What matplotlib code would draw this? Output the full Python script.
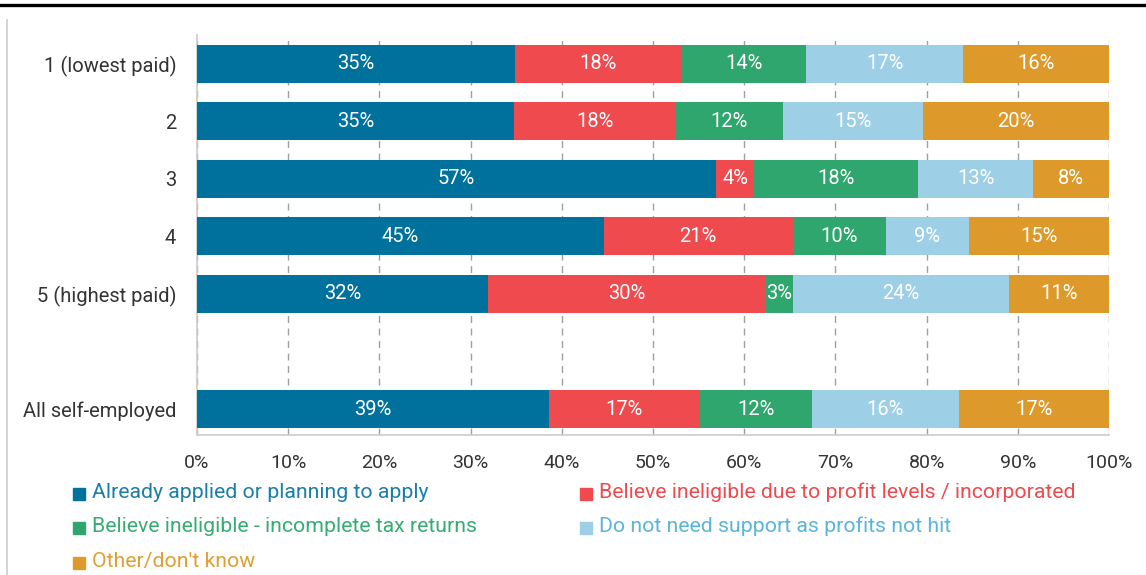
import matplotlib
matplotlib.use('Agg')
import matplotlib.pyplot as plt
from matplotlib.lines import Line2D
import numpy as np

plt.rcParams['font.family'] = ['Roboto', 'DejaVu Sans']

groups = ['1 (lowest paid)', '2', '3', '4', '5 (highest paid)', 'All self-employed']
ypos = [0, 1, 2, 3, 4, 6]
series = ['Already applied or planning to apply',
          'Believe ineligible due to profit levels / incorporated',
          'Believe ineligible - incomplete tax returns',
          'Do not need support as profits not hit',
          "Other/don't know"]
applied = [34.9, 34.8, 56.9, 44.6, 31.9, 38.6]
profit = [18.2, 17.6, 4.2, 20.7, 30.4, 16.5]
incomplete = [13.7, 11.9, 18.0, 10.3, 3.0, 12.3]
not_needed = [17.2, 15.3, 12.6, 9.0, 23.7, 16.1]
other = [16.0, 20.4, 8.3, 15.4, 11.0, 16.5]

colors = ['#00719C', '#EF4A4E', '#2EA66E', '#9DD0E6', '#DD9A2B']
text_colors = ['#1A7FA8', '#EF4A4E', '#35AD72', '#5AB4DD', '#E09F32']

fig = plt.figure(figsize=(11.46, 5.75), dpi=100)
ax = fig.add_axes([0.1719, 0.2435, 0.7958, 0.6957])

data = [applied, profit, incomplete, not_needed, other]
left = np.zeros(len(groups))
for vals, col in zip(data, colors):
    vals = np.array(vals)
    ax.barh(ypos, vals, left=left, height=0.66, color=col, zorder=3)
    for y, l, v in zip(ypos, left, vals):
        ax.text(l + v / 2, y, '%d%%' % int(v + 0.5), ha='center', va='center',
                color='white', fontsize=14.5, zorder=4)
    left += vals

ax.set_xlim(0, 100)
ax.set_ylim(6.45, -0.5)
ax.set_yticks(ypos)
ax.set_yticklabels(groups, fontsize=14.5, color='#333333', va='center_baseline')
ax.set_xticks(range(0, 101, 10))
ax.set_xticklabels(['%d%%' % t for t in range(0, 101, 10)], fontsize=14, color='#333333')
ax.tick_params(axis='y', length=0, pad=15)
ax.tick_params(axis='x', length=0, pad=14)
ax.xaxis.grid(True, linestyle=(0, (5, 4)), color='#a0a0a0', linewidth=1, zorder=0)
for s in ['top', 'right']:
    ax.spines[s].set_visible(False)
for s in ['left', 'bottom']:
    ax.spines[s].set_color('#cccccc')
    ax.spines[s].set_linewidth(1.2)

# frame lines
fig.add_artist(Line2D([0, 1], [0.9913, 0.9913], color='black', linewidth=2.4))
fig.add_artist(Line2D([0.0061, 0.0061], [0, 0.965], color='#cccccc', linewidth=1.2))

# legend
col_x = [73 / 1146, 580 / 1146]
row_y = [1 - 492 / 575, 1 - 526 / 575, 1 - 561 / 575]
for i, (name, col, tcol) in enumerate(zip(series, colors, text_colors)):
    x = col_x[i % 2]
    y = row_y[i // 2]
    fig.add_artist(Line2D([x + 6 / 1146], [y - 2 / 575], marker='s', markersize=9,
                          color=col, linestyle='none'))
    fig.text(x + 19 / 1146, y, name, color=tcol, fontsize=15.3, va='center', ha='left')

fig.savefig('out.png', dpi=100)
